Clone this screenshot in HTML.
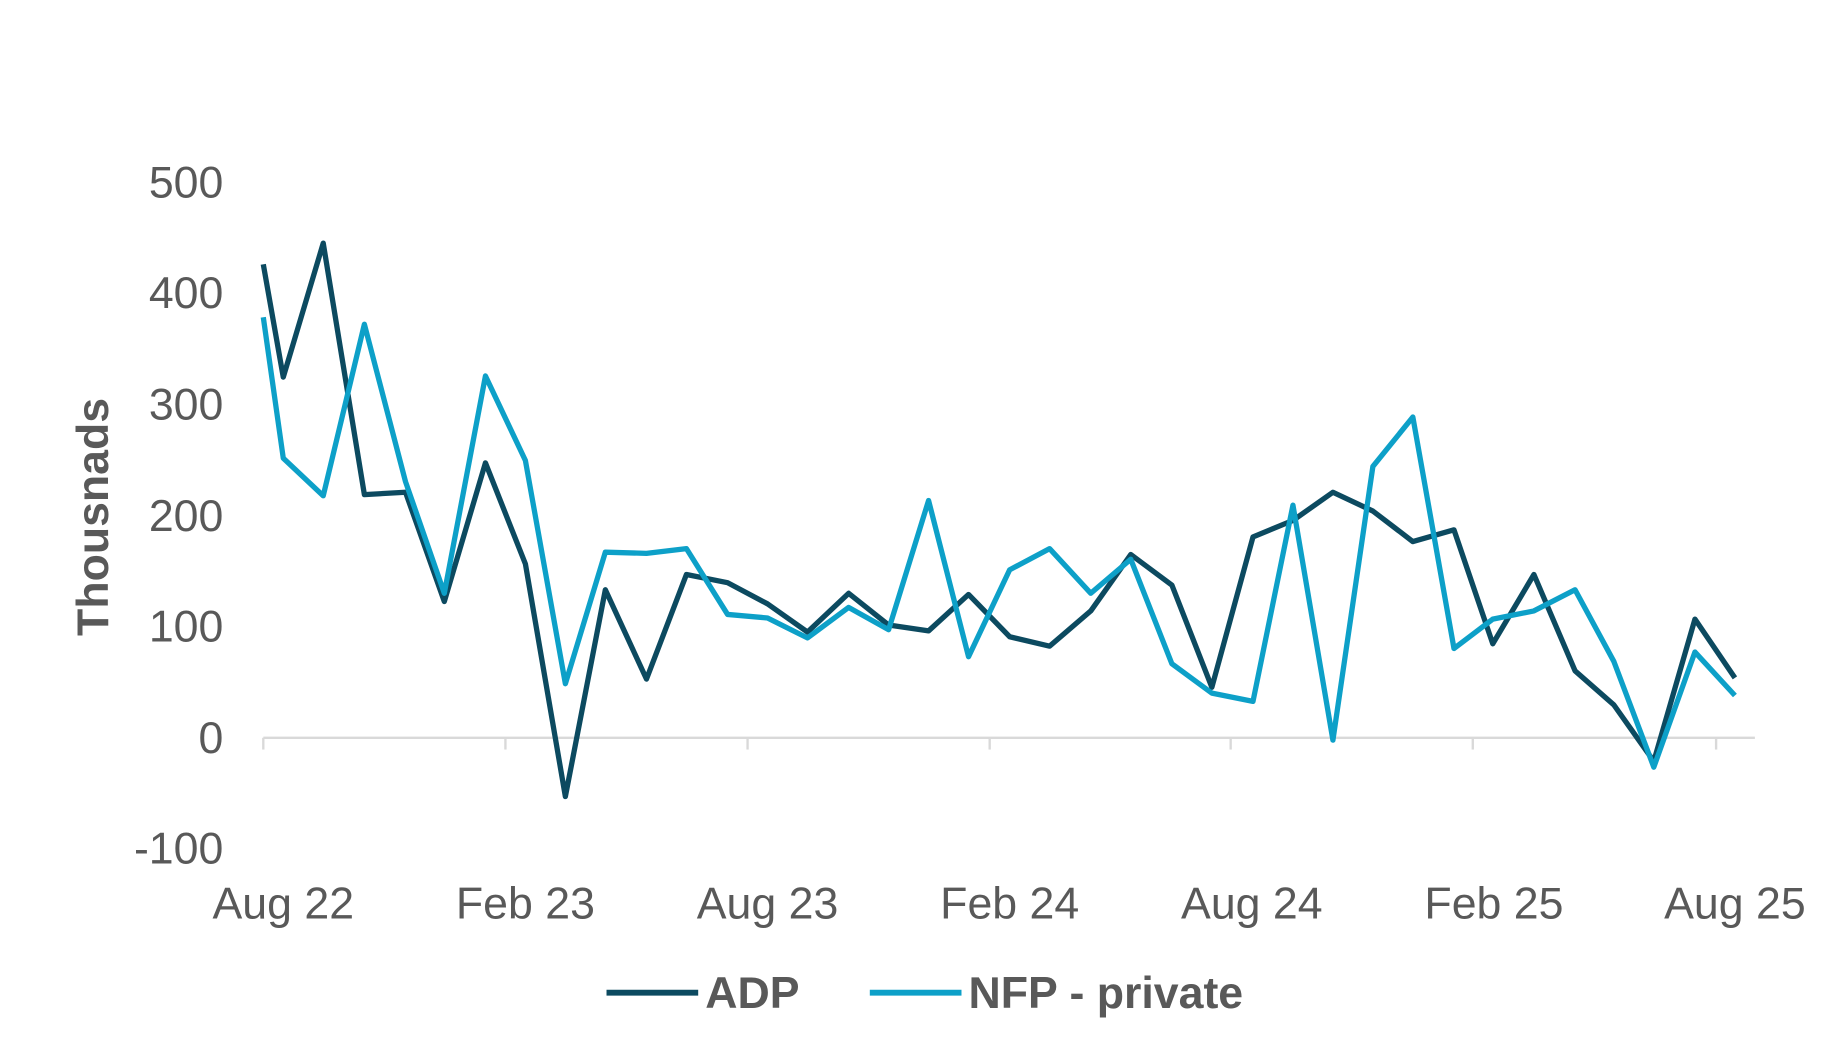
<!DOCTYPE html>
<html><head><meta charset="utf-8"><style>html,body{margin:0;padding:0;background:#fff;overflow:hidden}svg{display:block}</style></head>
<body>
<svg width="1836" height="1055" viewBox="0 0 1562 898" preserveAspectRatio="none" xmlns="http://www.w3.org/2000/svg" font-family="Liberation Sans, sans-serif" fill="#595959">
<line x1="224" y1="628" x2="1493" y2="628" stroke="#d9d9d9" stroke-width="2"/>
<g stroke="#d9d9d9" stroke-width="2">
<line x1="224" y1="628" x2="224" y2="638"/><line x1="430" y1="628" x2="430" y2="638"/><line x1="636" y1="628" x2="636" y2="638"/><line x1="842" y1="628" x2="842" y2="638"/><line x1="1047" y1="628" x2="1047" y2="638"/><line x1="1253" y1="628" x2="1253" y2="638"/><line x1="1460" y1="628" x2="1460" y2="638"/>
</g>
<g font-size="38" text-anchor="end">
<text x="190" y="168">500</text><text x="190" y="262">400</text><text x="190" y="357">300</text><text x="190" y="452">200</text><text x="190" y="546">100</text><text x="190" y="641">0</text><text x="190" y="735">-100</text>
</g>
<g font-size="38" text-anchor="middle">
<text x="241" y="782">Aug 22</text><text x="447" y="782">Feb 23</text><text x="653" y="782">Aug 23</text><text x="859" y="782">Feb 24</text><text x="1065" y="782">Aug 24</text><text x="1271" y="782">Feb 25</text><text x="1476" y="782">Aug 25</text>
</g>
<text transform="translate(92,440) rotate(-90)" font-size="38" font-weight="bold" text-anchor="middle">Thousnads</text>
<polyline fill="none" stroke="#0c4a60" stroke-width="4.5" stroke-linejoin="round" points="224,225 241,321 275,207 310,421 345,419 378,512 413,394 447,480 481,678 515,502 550,578 584,489 619,496 653,514 687,538 722,505 756,532 790,537 824,506 859,542 893,550 928,520 962,472 997,498 1031,585 1066,457 1100,443 1134,419 1168,435 1202,461 1237,451 1270,548 1305,489 1340,571 1373,600 1407,648 1442,527 1476,577"/>
<polyline fill="none" stroke="#0da0c8" stroke-width="4.5" stroke-linejoin="round" points="224,270 241,390 275,422 310,276 345,410 378,505 413,320 447,392 481,582 515,470 550,471 584,467 619,523 653,526 687,543 722,517 756,536 790,426 824,559 859,485 893,467 928,505 962,476 997,565 1031,590 1066,597 1100,430 1134,630 1168,397 1202,355 1237,552 1270,527 1305,520 1340,502 1373,563 1407,653 1442,555 1476,592"/>
<line x1="516" y1="845" x2="594" y2="845" stroke="#0c4a60" stroke-width="5"/>
<text x="600" y="858" font-size="38" font-weight="bold">ADP</text>
<line x1="740" y1="845" x2="818" y2="845" stroke="#0da0c8" stroke-width="5"/>
<text x="824" y="858" font-size="38" font-weight="bold">NFP - private</text>
</svg>
</body></html>
